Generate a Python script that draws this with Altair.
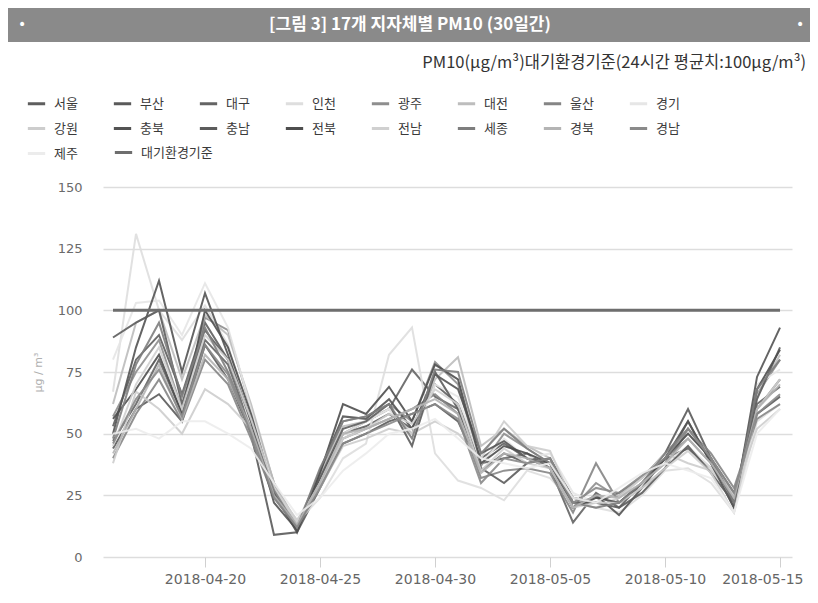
import altair as alt
import pandas as pd

# ---------------- data ----------------
dates = [
    "2018-04-16", "2018-04-17", "2018-04-18", "2018-04-19", "2018-04-20",
    "2018-04-21", "2018-04-22", "2018-04-23", "2018-04-24", "2018-04-25",
    "2018-04-26", "2018-04-27", "2018-04-28", "2018-04-29", "2018-04-30",
    "2018-05-01", "2018-05-02", "2018-05-03", "2018-05-04", "2018-05-05",
    "2018-05-06", "2018-05-07", "2018-05-08", "2018-05-09", "2018-05-10",
    "2018-05-11", "2018-05-12", "2018-05-13", "2018-05-14", "2018-05-15",
]

seoul    = [53, 80, 90, 66, 95, 80, 55, 26, 12, 32, 50, 53, 58, 52, 70, 62, 40, 46, 40, 38, 22, 24, 22, 30, 40, 44, 36, 24, 60, 72]
busan    = [44, 60, 66, 55, 86, 72, 50, 9, 10, 28, 46, 50, 55, 58, 62, 55, 35, 42, 38, 40, 24, 22, 26, 32, 42, 60, 40, 26, 58, 65]
daegu    = [47, 62, 80, 58, 88, 78, 52, 25, 11, 30, 50, 55, 60, 76, 65, 60, 38, 40, 42, 36, 14, 26, 20, 30, 38, 55, 38, 20, 62, 69]
incheon  = [67, 131, 100, 88, 102, 86, 52, 28, 14, 24, 40, 46, 82, 93, 42, 31, 28, 23, 35, 32, 22, 20, 18, 25, 35, 36, 30, 18, 55, 62]
gwangju  = [57, 75, 88, 60, 97, 92, 60, 30, 13, 34, 55, 57, 62, 55, 79, 70, 37, 50, 44, 38, 20, 30, 24, 30, 40, 48, 38, 22, 66, 80]
daejeon  = [62, 95, 100, 72, 98, 90, 62, 30, 14, 33, 53, 55, 60, 50, 72, 81, 45, 52, 45, 40, 22, 24, 25, 32, 40, 50, 40, 24, 65, 82]
ulsan    = [40, 58, 72, 55, 80, 70, 48, 24, 12, 30, 48, 52, 56, 60, 66, 58, 32, 35, 36, 34, 18, 38, 22, 28, 36, 52, 42, 28, 56, 62]
gyeonggi = [80, 103, 104, 90, 111, 93, 60, 27, 15, 30, 50, 55, 60, 48, 70, 65, 38, 48, 40, 42, 26, 22, 24, 30, 38, 45, 36, 22, 70, 76]
gangwon  = [38, 67, 60, 50, 68, 62, 52, 28, 15, 28, 45, 48, 52, 50, 55, 50, 40, 55, 45, 43, 22, 20, 24, 32, 42, 38, 35, 25, 52, 60]
chungbuk = [50, 85, 112, 75, 107, 82, 55, 22, 11, 35, 57, 56, 64, 52, 74, 68, 42, 47, 40, 36, 20, 25, 17, 28, 40, 55, 38, 20, 73, 93]
chungnam = [89, 95, 100, 62, 92, 80, 56, 25, 12, 32, 52, 55, 62, 45, 75, 60, 36, 30, 38, 40, 22, 22, 20, 26, 36, 45, 34, 22, 64, 85]
jeonbuk  = [56, 68, 82, 58, 100, 85, 58, 26, 10, 34, 62, 58, 69, 55, 78, 72, 38, 45, 42, 38, 20, 24, 22, 30, 40, 50, 40, 22, 68, 84]
jeonnam  = [45, 70, 85, 60, 90, 80, 56, 28, 14, 30, 48, 52, 58, 54, 68, 62, 35, 44, 38, 36, 20, 22, 22, 28, 36, 43, 34, 18, 60, 72]
sejong   = [48, 78, 95, 65, 93, 75, 52, 27, 12, 36, 55, 57, 62, 48, 76, 75, 42, 52, 44, 38, 22, 20, 22, 30, 42, 52, 40, 22, 68, 80]
gyeongbuk = [42, 60, 78, 56, 82, 72, 52, 25, 13, 30, 50, 52, 56, 60, 64, 58, 34, 42, 40, 36, 20, 25, 24, 30, 38, 48, 38, 24, 60, 70]
gyeongnam = [46, 64, 76, 57, 86, 74, 50, 24, 12, 28, 46, 50, 54, 58, 62, 56, 30, 40, 38, 40, 22, 28, 26, 33, 40, 52, 40, 26, 58, 66]
jeju     = [50, 52, 48, 55, 55, 50, 44, 30, 17, 24, 35, 42, 50, 52, 56, 48, 40, 38, 36, 38, 24, 22, 28, 34, 38, 35, 32, 18, 50, 60]
standard = [100] * 30

region_names = ["서울", "부산", "대구", "인천", "광주", "대전", "울산", "경기",
                "강원", "충북", "충남", "전북", "전남", "세종", "경북", "경남", "제주"]
region_values = [seoul, busan, daegu, incheon, gwangju, daejeon, ulsan, gyeonggi,
                 gangwon, chungbuk, chungnam, jeonbuk, jeonnam, sejong, gyeongbuk,
                 gyeongnam, jeju]
region_colors = ["#5e5e5e", "#5a5a5a", "#646464", "#dedede", "#8e8e8e", "#bdbdbd",
                 "#858585", "#e6e6e6", "#cdcdcd", "#535353", "#5c5c5c", "#4e4e4e",
                 "#d0d0d0", "#7e7e7e", "#b4b4b4", "#8a8a8a", "#ececec"]
standard_name = "대기환경기준"
standard_color = "#6e6e6e"

x_tick_dates = ["2018-04-20", "2018-04-25", "2018-04-30", "2018-05-05", "2018-05-10", "2018-05-15"]
y_ticks = [0, 25, 50, 75, 100, 125, 150]

title_text = "[그림 3] 17개 지자체별 PM10 (30일간)"
subtitle_text = "PM10(μg/m³)대기환경기준(24시간 평균치:100μg/m³)"
y_title = "μg / m³"

# ---------------- tables ----------------
rows = []
for name, vals in zip(region_names, region_values):
    for d, v in zip(dates, vals):
        rows.append({"date": d + "T00:00:00", "region": name, "value": v})
df = pd.DataFrame(rows)
df_std = pd.DataFrame({"date": [d + "T00:00:00" for d in dates],
                       "region": [standard_name] * len(dates), "value": standard})


def dt(s, hours=0, minutes=0):
    y, m, d = [int(p) for p in s.split("-")]
    return alt.DateTime(year=y, month=m, date=d, hours=hours, minutes=minutes)


W, H = 689, 370
KFONT = "Noto Sans CJK KR"
LEG_X, LEG_Y = -77, -94
COL_STEP, ROW_STEP = 87, 24.5

legend_common = dict(
    title=None, orient="none", direction="horizontal", symbolType="stroke",
    symbolSize=300, symbolStrokeWidth=3, symbolOpacity=1, labelFont=KFONT,
    labelFontSize=13, labelColor="#3a3a3a", labelOffset=7,
)
legend_regions = alt.Legend(legendX=LEG_X, legendY=LEG_Y, columns=8,
                            columnPadding=29, rowPadding=7, **legend_common)
legend_std = alt.Legend(legendX=LEG_X + COL_STEP, legendY=LEG_Y + 2 * ROW_STEP,
                        **legend_common)

x_enc = alt.X("date:T",
              scale=alt.Scale(domain=[dt("2018-04-15", 13, 34), dt("2018-05-15", 12, 30)]),
              axis=alt.Axis(title=None, values=[dt(s) for s in x_tick_dates], format="%Y-%m-%d",
                            grid=False, domain=False, ticks=True, tickSize=10,
                            tickColor="#d0d0d0", tickWidth=1, labelPadding=5,
                            labelFont="DejaVu Sans", labelFontSize=14, labelColor="#666666",
                            labelAngle=0, labelOverlap=False, labelFlush=15,
                            labelFlushOffset=23))
y_enc = alt.Y("value:Q",
              scale=alt.Scale(domain=[0, 150], nice=False, zero=True),
              axis=alt.Axis(title=y_title, values=y_ticks, grid=True, gridColor="#dddddd",
                            gridWidth=1.5, domain=False, ticks=False, labelPadding=21,
                            labelFont="DejaVu Sans", labelFontSize=13, labelColor="#6a6a6a",
                            titleColor="#b0b0b0", titleFontSize=11, titleFont="DejaVu Sans",
                            titleFontWeight="normal", titleX=-60, titleY=185))

lines = alt.Chart(df).mark_line(strokeWidth=2, opacity=0.9).encode(
    x=x_enc, y=y_enc,
    color=alt.Color("region:N", scale=alt.Scale(domain=region_names, range=region_colors),
                    legend=legend_regions))
std_line = alt.Chart(df_std).mark_line(strokeWidth=3).encode(
    x=x_enc, y=y_enc,
    color=alt.Color("region:N", scale=alt.Scale(domain=[standard_name], range=[standard_color]),
                    legend=legend_std))

banner = alt.Chart(pd.DataFrame({"a": [0]})).mark_rect(color="#8a8a8a").encode(
    x=alt.value(-95), x2=alt.value(707), y=alt.value(-179), y2=alt.value(-145))
title_mark = alt.Chart(pd.DataFrame({"t": [title_text]})).mark_text(
    font=KFONT, fontSize=17, fontWeight="bold", color="white", align="center",
    baseline="middle").encode(x=alt.value(307), y=alt.value(-162), text="t:N")
bullets = alt.Chart(pd.DataFrame({"t": ["•", "•"], "p": [-81, 697]})).mark_text(
    font="DejaVu Sans", fontSize=14, color="white", align="center", baseline="middle").encode(
    x=alt.X("p:Q", scale=None), y=alt.value(-162), text="t:N")
subtitle = alt.Chart(pd.DataFrame({"t": [subtitle_text]})).mark_text(
    font=KFONT, fontSize=16.5, color="#333333", align="right", baseline="middle").encode(
    x=alt.value(703), y=alt.value(-124), text="t:N")

chart = alt.layer(banner, title_mark, bullets, subtitle, lines, std_line).resolve_scale(
    color="independent"
).properties(
    width=W, height=H,
    autosize=alt.AutoSizeParams(type="none"),
    padding={"left": 95, "top": 179, "right": 18, "bottom": 38},
    background="white",
).configure_view(stroke=None)

chart.save("out.html", embed_options={"renderer": "svg", "actions": False})
